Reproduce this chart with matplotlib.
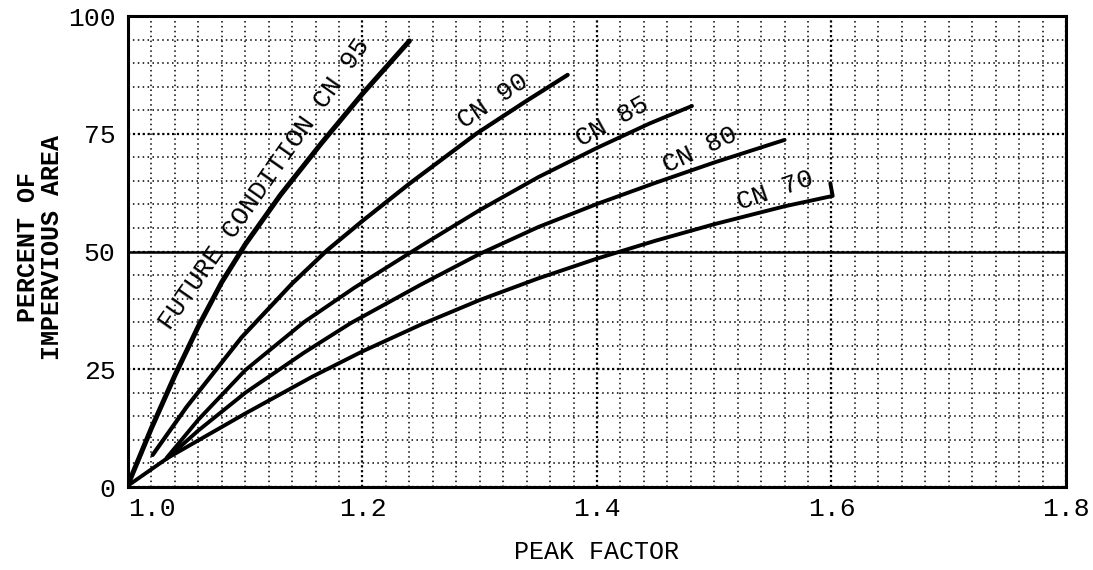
import matplotlib
matplotlib.use('Agg')
import matplotlib.pyplot as plt
from matplotlib.ticker import MultipleLocator

plt.rcParams['font.family'] = ['Liberation Mono', 'DejaVu Sans Mono']

# curves (peak factor, percent impervious)
cn95_x = [1.0, 1.02, 1.04, 1.06, 1.08, 1.10, 1.13, 1.165, 1.20, 1.24]
cn95_y = [0.5, 12.5, 23.7, 34.1, 43.5, 51.5, 62, 73, 83.5, 94.7]
cn90_x = [1.021, 1.05, 1.097, 1.14, 1.17, 1.20, 1.24, 1.297, 1.34, 1.375]
cn90_y = [6.8, 17, 31.8, 43.2, 50.3, 56.5, 64.4, 75, 82, 87.5]
cn85_x = [1.033, 1.06, 1.10, 1.15, 1.193, 1.25, 1.30, 1.35, 1.40, 1.445, 1.481]
cn85_y = [6.2, 14.3, 24.8, 35, 42.3, 51.2, 58.8, 65.8, 72, 77.2, 80.9]
cn80_x = [1.033, 1.06, 1.10, 1.15, 1.19, 1.25, 1.30, 1.35, 1.40, 1.45, 1.50, 1.56]
cn80_y = [6, 12, 20, 28.5, 34.8, 43, 49.5, 55.2, 60.1, 64.6, 68.9, 73.7]
cn70_x = [1.0, 1.034, 1.10, 1.157, 1.20, 1.25, 1.30, 1.35, 1.40, 1.45, 1.50, 1.56, 1.601, 1.599]
cn70_y = [0.3, 6.2, 15.6, 23.4, 28.8, 34.5, 39.7, 44.3, 48.5, 52.3, 55.8, 59.6, 61.8, 64.5]

xticks = [1.0, 1.2, 1.4, 1.6, 1.8]
xtick_labels = ['1.0', '1.2', '1.4', '1.6', '1.8']
yticks = [0, 25, 50, 75, 100]

fig = plt.figure(figsize=(10.93, 5.70), dpi=100)
ax = fig.add_axes([0.1171, 0.1456, 0.8582, 0.8263])

ax.set_xlim(1.0, 1.8)
ax.set_ylim(0, 100)
ax.set_xticks(xticks)
ax.set_xticklabels(xtick_labels)
ax.set_yticks(yticks)
ax.xaxis.set_minor_locator(MultipleLocator(0.02))
ax.yaxis.set_minor_locator(MultipleLocator(5))
ax.tick_params(which='both', length=0)
ax.tick_params(axis='x', pad=7, labelsize=19)
ax.tick_params(axis='y', pad=9, labelsize=19)
ax.get_xticklabels()[0].set_ha('left')

ax.grid(which='minor', color='black', linestyle=(0, (1, 2.2)), linewidth=1.1)
ax.grid(which='major', color='black', linestyle=(0, (1, 1.2)), linewidth=1.6)
ax.axhline(50, color='black', linewidth=1.8)
ax.set_axisbelow(True)
for s in ax.spines.values():
    s.set_linewidth(2.2)

lkw = dict(color='black', solid_capstyle='round', solid_joinstyle='round')
ax.plot(cn95_x, cn95_y, linewidth=3.6, **lkw)
ax.plot(cn90_x, cn90_y, linewidth=3.0, **lkw)
ax.plot(cn85_x, cn85_y, linewidth=2.8, **lkw)
ax.plot(cn80_x, cn80_y, linewidth=2.8, **lkw)
ax.plot(cn70_x, cn70_y, linewidth=2.8, **lkw)

tkw = dict(fontsize=19, ha='center', va='center', rotation_mode='anchor')
ax.text(1.1165, 64.3, 'FUTURE CONDITION CN 95', rotation=55, **tkw)
ax.text(1.311, 82, 'CN 90', rotation=34, **tkw)
ax.text(1.413, 77.5, 'CN 85', rotation=29, **tkw)
ax.text(1.488, 71.5, 'CN 80', rotation=25, **tkw)
ax.text(1.552, 63, 'CN 70', rotation=19, **tkw)

fig.text(597 / 1093, 1 - 552 / 570, 'PEAK FACTOR', fontsize=18, ha='center', va='center')
fig.text(40 / 1093, 1 - 247 / 570, 'PERCENT OF\nIMPERVIOUS AREA', fontsize=18,
         rotation=90, ha='center', va='center', multialignment='center',
         linespacing=1.0, fontweight='bold')

plt.savefig('out.png', dpi=100)
plt.close()
